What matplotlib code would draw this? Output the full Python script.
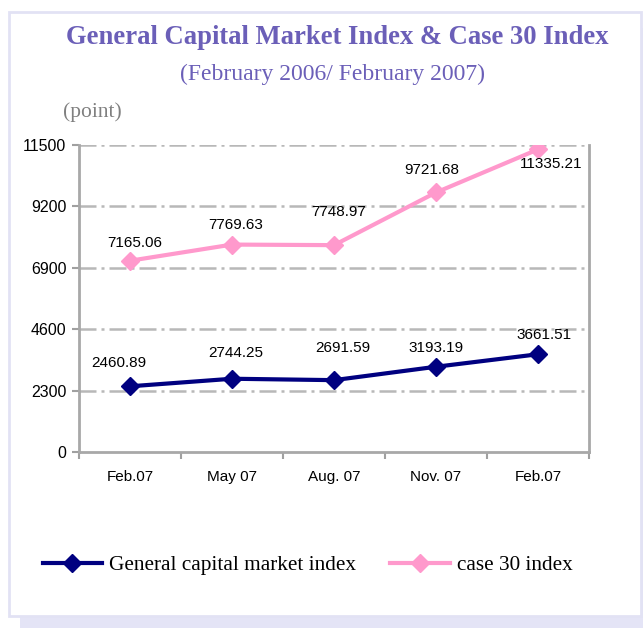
import numpy as np
import matplotlib.pyplot as plt
from matplotlib.patches import Rectangle

# Data
months = ['Feb.07', 'May 07', 'Aug. 07', 'Nov. 07', 'Feb.07']
general_idx = [2460.89, 2744.25, 2691.59, 3193.19, 3661.51]
case30_idx = [7165.06, 7769.63, 7748.97, 9721.68, 11335.21]
y_ticks = [0, 2300, 4600, 6900, 9200, 11500]

# label offsets in pixels : (dx, dy)
gen_off = [(-11, 23), (4, 26), (9, 32), (0, 19), (6, 19)]
case_off = [(5, 18), (4, 20), (5, 33), (-4, 22), (13, -15)]

navy = '#000080'
pink = '#FF99CC'
title_col = '#6B5FB8'

fig = plt.figure(figsize=(6.43, 6.33), dpi=100)

# frame + shadow
fig.patches.append(Rectangle((20/643, 5/633), 1, 600/633, transform=fig.transFigure,
                             facecolor='#E4E4F6', edgecolor='none', zorder=-2))
fig.patches.append(Rectangle((9/643, 17/633), 632/643, 604/633, transform=fig.transFigure,
                             facecolor='white', edgecolor='#E2E2F4', linewidth=2, zorder=-1))

ax = fig.add_axes([79/643, 181/633, 510/643, 307/633])
ax.patch.set_alpha(0)
x = np.arange(len(months)) + 0.5

ax.plot(x, case30_idx, color=pink, lw=3, marker='D', ms=9, label='case 30 index', zorder=3)
ax.plot(x, general_idx, color=navy, lw=3, marker='D', ms=9, label='General capital market index', zorder=3)

for xi, v, (dx, dy) in zip(x, general_idx, gen_off):
    ax.annotate(f'{v:.2f}', (xi, v), xytext=(dx, dy), textcoords='offset pixels',
                ha='center', va='center', fontsize=11, family='Liberation Sans')
for xi, v, (dx, dy) in zip(x, case30_idx, case_off):
    ax.annotate(f'{v:.2f}', (xi, v), xytext=(dx, dy), textcoords='offset pixels',
                ha='center', va='center', fontsize=11, family='Liberation Sans')

ax.set_xlim(0, len(months))
ax.set_ylim(0, 11500)
ax.set_yticks(y_ticks)
ax.set_yticklabels([str(t) for t in y_ticks], family='Liberation Sans', fontsize=11.5)
ax.set_xticks(np.arange(len(months) + 1))
ax.set_xticklabels([])
ax.set_xticks(x, minor=True)
ax.set_xticklabels(months, minor=True, family='Liberation Sans', fontsize=11)
ax.tick_params(axis='x', which='minor', length=0, pad=13)
ax.tick_params(axis='both', which='major', color='#A0A0A0', length=5, width=1.5)
ax.tick_params(axis='y', pad=4)

for t in y_ticks[1:]:
    ax.axhline(t, color='#B8B8B8', lw=1.8, ls=(0, (6.8, 2, 1.2, 2)), zorder=1)

for s in ['left', 'bottom', 'right']:
    ax.spines[s].set_color('#A8A8A8')
    ax.spines[s].set_linewidth(2)
ax.spines['top'].set_visible(False)

fig.text(337/643, 1 - 37/633, 'General Capital Market Index & Case 30 Index', ha='center', va='center',
         family='Liberation Serif', fontweight='bold', fontsize=19.2, color=title_col)
fig.text(333/643, 1 - 74/633, '(February 2006/ February 2007)', ha='center', va='center',
         family='Liberation Serif', fontsize=17, color=title_col)
fig.text(63/643, 1 - 112/633, '(point)', ha='left', va='center',
         family='Liberation Serif', fontsize=15.5, color='#808080')

h, l = ax.get_legend_handles_labels()
fig.legend(h[::-1], l[::-1], loc='center left', bbox_to_anchor=(32/643, 1 - 565/633), ncol=2,
           frameon=False, prop={'family': 'Liberation Serif', 'size': 15.3},
           handlelength=2.8, handletextpad=0.33, columnspacing=1.6, borderpad=0)

fig.savefig('out.png', dpi=100)
